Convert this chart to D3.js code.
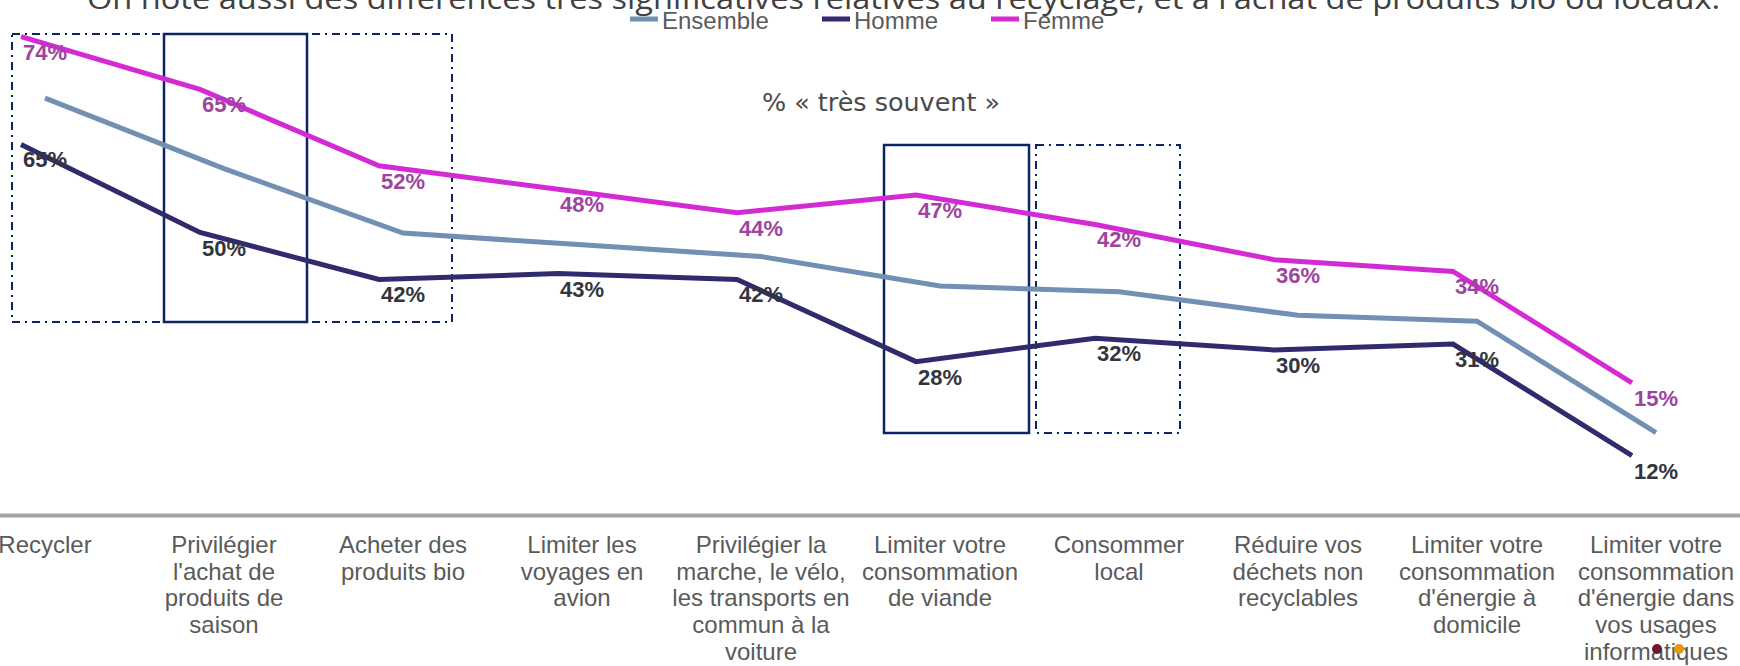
<!DOCTYPE html>
<html>
<head>
<meta charset="utf-8">
<script src="https://cdn.jsdelivr.net/npm/d3@7/dist/d3.min.js"></script>
<style>
    body { margin:0; background:#fff; }
    svg { display:block; }
</style>
</head>
<body>
<div id="chart"></div>
<script>

// categories (full names) and how the labels wrap under the axis
var categories = [
    "Recycler",
    "Privilégier l'achat de produits de saison",
    "Acheter des produits bio",
    "Limiter les voyages en avion",
    "Privilégier la marche, le vélo, les transports en commun à la voiture",
    "Limiter votre consommation de viande",
    "Consommer local",
    "Réduire vos déchets non recyclables",
    "Limiter votre consommation d'énergie à domicile",
    "Limiter votre consommation d'énergie dans vos usages informatiques"
];
var categoryLines = [
    ["Recycler"],
    ["Privilégier", "l'achat de", "produits de", "saison"],
    ["Acheter des", "produits bio"],
    ["Limiter les", "voyages en", "avion"],
    ["Privilégier la", "marche, le vélo,", "les transports en", "commun à la", "voiture"],
    ["Limiter votre", "consommation", "de viande"],
    ["Consommer", "local"],
    ["Réduire vos", "déchets non", "recyclables"],
    ["Limiter votre", "consommation", "d'énergie à", "domicile"],
    ["Limiter votre", "consommation", "d'énergie dans", "vos usages", "informatiques"]
];

// % "très souvent"
var ensembleValues = [70, 58, 47, 45, 43, 38, 37, 33, 32, 13];
var hommeValues    = [65, 50, 42, 43, 42, 28, 32, 30, 31, 12];
var femmeValues    = [74, 65, 52, 48, 44, 47, 42, 36, 34, 15];

var seriesNames = ["Ensemble", "Homme", "Femme"];

var titleText = "On note aussi des différences très significatives relatives au recyclage, et à l'achat de produits bio ou locaux.";
var subtitleText = "% « très souvent »";

function DrawChart(){
    var width = 1740;
    var height = 666;
    var axisY = 515;

    // in the slide the three curves sit on slightly shifted baselines
    var series = [
        {name:"Ensemble", values:ensembleValues, color:"#7190b4", base:509, shift:0,   labels:false},
        {name:"Homme",    values:hommeValues,    color:"#2f2b6c", base:526, shift:-24, labels:true, labelColor:"#34343e"},
        {name:"Femme",    values:femmeValues,    color:"#d42ad4", base:471, shift:-24, labels:true, labelColor:"#9e449e"}
    ];

    var svg = d3.select("#chart").append("svg")
        .attr("width", width)
        .attr("height", height);

    var xScale = d3.scaleBand()
        .domain(categories)
        .range([-44.5, 1745.5]);

    var yScale = d3.scaleLinear()
        .domain([0, 100])
        .range([0, -587]);

    function cx(i){ return xScale(categories[i]) + xScale.bandwidth()/2; }

    // title, partly cut by the top edge
    svg.append("text")
        .attr("x", 87)
        .attr("y", 9)
        .attr("textLength", 1633)
        .attr("lengthAdjust", "spacingAndGlyphs")
        .style("font-family", "'Open Sans', sans-serif")
        .style("font-size", "29px")
        .style("fill", "#404040")
        .text(titleText);

    // legend
    var legendX = [630, 822, 991];
    var legend = svg.selectAll(".legend")
        .data(series)
        .enter()
        .append("g")
        .attr("class", "legend")
        .attr("transform", function (d, i) { return "translate(" + legendX[i] + ",0)"; });
    legend.append("line")
        .attr("x1", 0).attr("x2", 28)
        .attr("y1", 19).attr("y2", 19)
        .style("stroke", function (d) { return d.color; })
        .style("stroke-width", 5);
    legend.append("text")
        .attr("x", 32)
        .attr("y", 29)
        .style("font-family", "'Liberation Sans', Arial, sans-serif")
        .style("font-size", "24px")
        .style("fill", "#5a5a5a")
        .text(function (d) { return d.name; });

    svg.append("text")
        .attr("x", 762)
        .attr("y", 111)
        .attr("textLength", 238)
        .attr("lengthAdjust", "spacingAndGlyphs")
        .style("font-family", "'DejaVu Sans', sans-serif")
        .style("font-size", "24px")
        .style("fill", "#4a4a4a")
        .text(subtitleText);

    // highlight boxes drawn on the slide
    var boxes = [
        {x0:12,  x1:452,  y0:34,  y1:322, dash:true},
        {x0:164, x1:307,  y0:34,  y1:322, dash:false},
        {x0:884, x1:1029, y0:145, y1:433, dash:false},
        {x0:1036,x1:1180, y0:145, y1:433, dash:true}
    ];
    svg.selectAll(".box")
        .data(boxes)
        .enter()
        .append("rect")
        .attr("class", "box")
        .attr("x", function (d) { return d.x0; })
        .attr("y", function (d) { return d.y0; })
        .attr("width", function (d) { return d.x1 - d.x0; })
        .attr("height", function (d) { return d.y1 - d.y0; })
        .style("fill", "none")
        .style("stroke", "#0b2566")
        .style("stroke-width", function (d) { return d.dash ? 2 : 2.5; })
        .style("stroke-dasharray", function (d) { return d.dash ? "8,5,2,5" : null; });

    // x axis with wrapped labels
    var xAxis = d3.axisBottom(xScale).tickSize(0).tickSizeOuter(0);
    var gx = svg.append("g")
        .attr("class", "x axis")
        .attr("transform", "translate(0," + axisY + ")")
        .call(xAxis);
    gx.select(".domain")
        .style("stroke", "#a4a4a4")
        .style("stroke-width", 4);
    gx.selectAll(".tick text")
        .attr("y", 0)
        .attr("dy", null)
        .style("font-family", "'Liberation Sans', Arial, sans-serif")
        .style("font-size", "24px")
        .style("fill", "#5a5a5a")
        .each(function (d, i) {
            var t = d3.select(this).text("");
            categoryLines[i].forEach(function (line, k) {
                t.append("tspan")
                    .attr("x", 0)
                    .attr("y", 38 + k * 26.7)
                    .text(line);
            });
        });

    // lines
    series.forEach(function (s) {
        var line = d3.line()
            .x(function (d, i) { return cx(i) + s.shift; })
            .y(function (d) { return s.base + yScale(d); });

        svg.append("path")
            .datum(s.values)
            .attr("class", "line")
            .attr("d", line)
            .style("fill", "none")
            .style("stroke", s.color)
            .style("stroke-width", 5);
    });

    // data labels
    series.filter(function (s) { return s.labels; }).forEach(function (s) {
        svg.selectAll(".lbl-" + s.name)
            .data(s.values)
            .enter()
            .append("text")
            .attr("class", "lbl-" + s.name)
            .attr("x", function (d, i) { return cx(i); })
            .attr("y", function (d) { return s.base + yScale(d) + 23; })
            .attr("text-anchor", "middle")
            .style("font-family", "'Liberation Sans', Arial, sans-serif")
            .style("font-weight", "bold")
            .style("font-size", "22px")
            .style("fill", s.labelColor)
            .text(function (d) { return d + "%"; });
    });

    // two small slide markers near the last label
    svg.append("circle").attr("cx", 1657).attr("cy", 649).attr("r", 5).style("fill", "#6e1a2c");
    svg.append("circle").attr("cx", 1679).attr("cy", 649).attr("r", 5).style("fill", "#e59a0c");
}

DrawChart();
</script>
</body>
</html>
